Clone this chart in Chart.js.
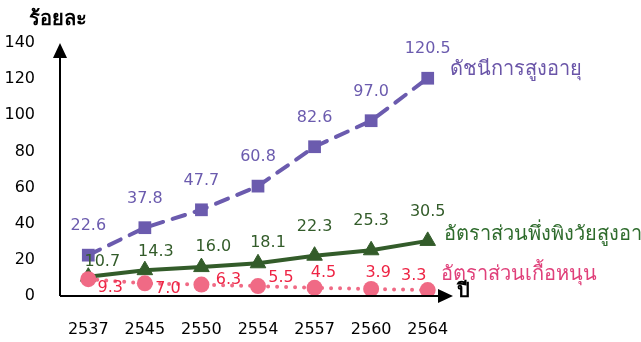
<!DOCTYPE html>
<html lang="th">
<head>
<meta charset="utf-8">
<script src="https://cdn.jsdelivr.net/npm/chart.js@4/dist/chart.umd.min.js"></script>
<style>
  html, body { margin: 0; padding: 0; background: #fff; }
  #chart { display: block; }
</style>
</head>
<body>
<canvas id="chart" width="641" height="342"></canvas>
<script>
const years = ['2537', '2545', '2550', '2554', '2557', '2560', '2564']
const agingIndex = [22.6, 37.8, 47.7, 60.8, 82.6, 97.0, 120.5]
const oldAgeDependency = [10.7, 14.3, 16.0, 18.1, 22.3, 25.3, 30.5]
const supportRatio = [9.3, 7.0, 6.3, 5.5, 4.5, 3.9, 3.3]
const yTicks = [0, 20, 40, 60, 80, 100, 120, 140]

const FONT = '"DejaVu Sans", Tahoma, "Noto Sans", sans-serif'
const PURPLE = '#6B5BAE'
const GREEN = '#335C2A'
const PINK = '#F06A85'

// label offsets relative to each point (style only)
const labelStyles = [
  {
    color: PURPLE,
    offsets: [[0, -29], [0, -29], [0, -29], [0, -29], [0, -29], [0, -29], [0, -29]],
    name: 'ดัชนีการสูงอายุ',
    nameOffset: [22, -8],
    nameColor: '#6A55A8',
  },
  {
    color: GREEN,
    offsets: [[14, -15], [11, -18], [12, -20], [10, -20], [0, -29], [0, -29], [0, -29]],
    name: 'อัตราส่วนพึ่งพิงวัยสูงอายุ',
    nameOffset: [16, -6],
    nameColor: '#2E6B2C',
  },
  {
    color: '#EE2444',
    offsets: [[22, 9], [23, 5], [27, -5], [23, -8], [9, -15], [7, -16], [-14, -14]],
    name: 'อัตราส่วนเกื้อหนุน',
    nameOffset: [13, -15],
    nameColor: '#E0407A',
  },
]

const annotations = {
  id: 'annotations',
  afterDatasetsDraw(chart) {
    const { ctx, chartArea: { left, right, top, bottom } } = chart
    const x = chart.scales.x
    const y = chart.scales.y

    ctx.save()
    // axes with arrow heads
    ctx.strokeStyle = '#000'
    ctx.fillStyle = '#000'
    ctx.lineWidth = 2
    ctx.beginPath()
    ctx.moveTo(left, bottom)
    ctx.lineTo(left, top + 12)
    ctx.moveTo(left, bottom)
    ctx.lineTo(right - 14, bottom)
    ctx.stroke()
    ctx.beginPath()
    ctx.moveTo(left, top)
    ctx.lineTo(left - 7, top + 15)
    ctx.lineTo(left + 7, top + 15)
    ctx.closePath()
    ctx.fill()
    ctx.beginPath()
    ctx.moveTo(right - 3, bottom)
    ctx.lineTo(right - 18, bottom - 7)
    ctx.lineTo(right - 18, bottom + 7)
    ctx.closePath()
    ctx.fill()

    // axis titles
    ctx.font = 'bold 20px ' + FONT
    ctx.textAlign = 'center'
    ctx.textBaseline = 'middle'
    ctx.fillText('ร้อยละ', left - 2, 20)
    ctx.textAlign = 'left'
    ctx.fillText('ปี', right + 1, bottom - 4)

    // value labels and series names
    const order = [2, 1, 0]
    order.forEach((dsIndex, i) => {
      const style = labelStyles[dsIndex]
      const meta = chart.getDatasetMeta(i)
      const values = chart.data.datasets[i].data
      ctx.font = '16px ' + FONT
      ctx.fillStyle = style.color
      ctx.textAlign = 'center'
      meta.data.forEach((pt, j) => {
        const [dx, dy] = style.offsets[j]
        ctx.fillText(values[j].toFixed(1), pt.x + dx, pt.y + dy)
      })
      const last = meta.data[meta.data.length - 1]
      ctx.font = '20px ' + FONT
      ctx.fillStyle = style.nameColor
      ctx.textAlign = 'left'
      ctx.fillText(style.name, last.x + style.nameOffset[0], last.y + style.nameOffset[1])
    })
    ctx.restore()
  },
}

new Chart(document.getElementById('chart'), {
  type: 'line',
  data: {
    labels: years,
    datasets: [
      {
        label: 'อัตราส่วนเกื้อหนุน',
        data: supportRatio,
        borderColor: PINK,
        backgroundColor: PINK,
        borderWidth: 4,
        borderDash: [0, 9],
        borderCapStyle: 'round',
        pointStyle: 'circle',
        pointRadius: 8,
        pointBorderWidth: 0,
      },
      {
        label: 'อัตราส่วนพึ่งพิงวัยสูงอายุ',
        data: oldAgeDependency,
        borderColor: GREEN,
        backgroundColor: GREEN,
        borderWidth: 4,
        pointStyle: 'triangle',
        pointRadius: 9,
        pointBorderWidth: 1,
        pointBorderColor: GREEN,
      },
      {
        label: 'ดัชนีการสูงอายุ',
        data: agingIndex,
        borderColor: PURPLE,
        backgroundColor: PURPLE,
        borderWidth: 4,
        borderDash: [13, 10],
        borderCapStyle: 'round',
        pointStyle: 'rect',
        pointRadius: 9,
        pointBorderWidth: 0,
      },
    ],
  },
  options: {
    responsive: false,
    animation: false,
    layout: {
      padding: { top: 43, right: 185, left: 0, bottom: 0 },
    },
    plugins: {
      legend: { display: false },
      tooltip: { enabled: false },
    },
    scales: {
      x: {
        offset: true,
        grid: { display: false, drawTicks: false },
        border: { display: false },
        ticks: {
          color: '#000',
          font: { family: FONT, size: 16 },
          padding: 24,
        },
        afterFit: (scale) => {
          scale.height = 46
        },
      },
      y: {
        min: 0,
        max: 140,
        grid: { display: false, drawTicks: false },
        border: { display: false },
        afterBuildTicks: (scale) => {
          scale.ticks = yTicks.map((value) => ({ value }))
        },
        ticks: {
          color: '#000',
          font: { family: FONT, size: 16 },
          padding: 25,
        },
        afterFit: (scale) => {
          scale.width = 60
        },
      },
    },
  },
  plugins: [annotations],
})
</script>
</body>
</html>
